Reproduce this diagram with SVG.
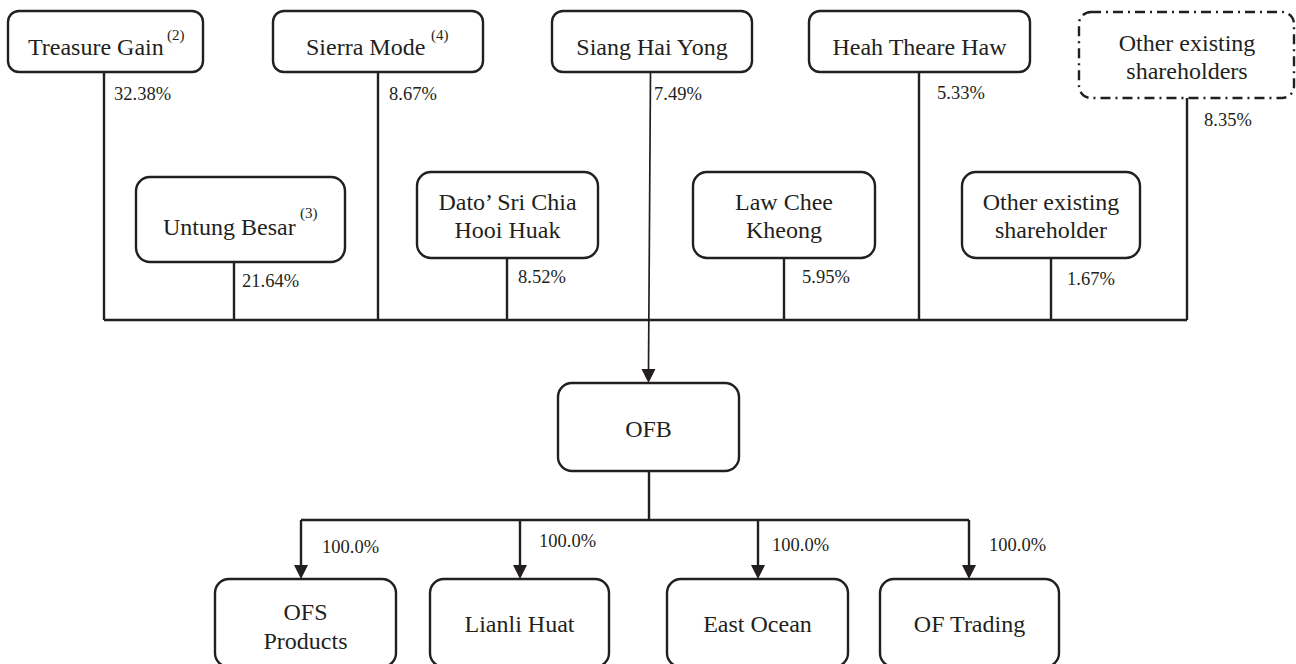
<svg xmlns="http://www.w3.org/2000/svg" width="1296" height="664" viewBox="0 0 1296 664">
<style>
.box{fill:#fff;stroke:#231f20;stroke-width:2.4}
.dash{fill:#fff;stroke:#231f20;stroke-width:2.4;stroke-dasharray:10 5 2 5}
.lbl{font-family:"Liberation Serif","Times New Roman",serif;font-size:24px;fill:#231f20;text-anchor:middle}
.sup{font-family:"Liberation Serif","Times New Roman",serif;font-size:15px;fill:#231f20}
.pct{font-family:"Liberation Serif","Times New Roman",serif;font-size:18.5px;fill:#231f20}
.ln{fill:none;stroke:#231f20;stroke-width:2.4}
.ah{fill:#231f20}
</style>
<g id="connectors">
<path class="ln" d="M104,72 V320 M378,72 V320 M919,72 V320 M1187,98 V320 M234,262 V320 M507,258 V320 M784,258 V320 M1051,258 V320 M104,320 H1187"/>
<path fill="none" stroke="#231f20" stroke-width="1.7" d="M650.5,72 L648.5,370"/>
<path class="ah" d="M641.5,369 L655.5,369 L648.5,383 Z"/>
<path class="ln" d="M649,471 V520 M301,520 H969"/>
<path class="ln" d="M301,520 V566 M520,520 V566 M758,520 V566 M969,520 V566"/>
<path class="ah" d="M294,565 L308,565 L301,579 Z M513,565 L527,565 L520,579 Z M751,565 L765,565 L758,579 Z M962,565 L976,565 L969,579 Z"/>
<text class="pct" x="114" y="100">32.38%</text>
<text class="pct" x="389" y="100">8.67%</text>
<text class="pct" x="654" y="100">7.49%</text>
<text class="pct" x="937" y="99">5.33%</text>
<text class="pct" x="1204" y="126">8.35%</text>
<text class="pct" x="242" y="287">21.64%</text>
<text class="pct" x="518" y="283">8.52%</text>
<text class="pct" x="802" y="283">5.95%</text>
<text class="pct" x="1067" y="285">1.67%</text>
<text class="pct" x="322" y="553">100.0%</text>
<text class="pct" x="539" y="547">100.0%</text>
<text class="pct" x="772" y="551">100.0%</text>
<text class="pct" x="989" y="551">100.0%</text>
</g>
<g id="treasure-gain">
<rect class="box" x="8" y="11" width="195" height="61" rx="11"/>
<text class="lbl" x="28" y="55" style="text-anchor:start">Treasure Gain</text>
<text class="sup" x="167" y="40">(2)</text>
</g>
<g id="sierra-mode">
<rect class="box" x="273" y="11" width="210" height="61" rx="11"/>
<text class="lbl" x="306" y="55" style="text-anchor:start">Sierra Mode</text>
<text class="sup" x="431" y="40">(4)</text>
</g>
<g id="siang-hai-yong">
<rect class="box" x="552" y="11" width="200" height="61" rx="11"/>
<text class="lbl" x="652" y="55">Siang Hai Yong</text>
</g>
<g id="heah-theare-haw">
<rect class="box" x="809" y="11" width="221" height="61" rx="11"/>
<text class="lbl" x="919.5" y="55">Heah Theare Haw</text>
</g>
<g id="other-existing-shareholders">
<rect class="dash" x="1079" y="12" width="215" height="86" rx="12"/>
<text class="lbl" x="1187" y="51">Other existing</text>
<text class="lbl" x="1187" y="79">shareholders</text>
</g>
<g id="untung-besar">
<rect class="box" x="136" y="177" width="209" height="85" rx="14"/>
<text class="lbl" x="163" y="235" style="text-anchor:start">Untung Besar</text>
<text class="sup" x="300" y="218">(3)</text>
</g>
<g id="dato-sri-chia">
<rect class="box" x="417" y="172" width="181" height="86" rx="14"/>
<text class="lbl" x="507.5" y="210">Dato’ Sri Chia</text>
<text class="lbl" x="507.5" y="238">Hooi Huak</text>
</g>
<g id="law-chee-kheong">
<rect class="box" x="693" y="172" width="182" height="86" rx="14"/>
<text class="lbl" x="784" y="210">Law Chee</text>
<text class="lbl" x="784" y="238">Kheong</text>
</g>
<g id="other-existing-shareholder">
<rect class="box" x="962" y="172" width="178" height="86" rx="14"/>
<text class="lbl" x="1051" y="210">Other existing</text>
<text class="lbl" x="1051" y="238">shareholder</text>
</g>
<g id="ofb">
<rect class="box" x="558" y="383" width="181" height="88" rx="14"/>
<text class="lbl" x="648.5" y="437">OFB</text>
</g>
<g id="ofs-products">
<rect class="box" x="215" y="579" width="181" height="88" rx="14"/>
<text class="lbl" x="305.5" y="620">OFS</text>
<text class="lbl" x="305.5" y="649">Products</text>
</g>
<g id="lianli-huat">
<rect class="box" x="430" y="579" width="179" height="88" rx="14"/>
<text class="lbl" x="519.5" y="632">Lianli Huat</text>
</g>
<g id="east-ocean">
<rect class="box" x="667" y="579" width="181" height="88" rx="14"/>
<text class="lbl" x="757.5" y="632">East Ocean</text>
</g>
<g id="of-trading">
<rect class="box" x="880" y="579" width="179" height="88" rx="14"/>
<text class="lbl" x="969.5" y="632">OF Trading</text>
</g>
</svg>
